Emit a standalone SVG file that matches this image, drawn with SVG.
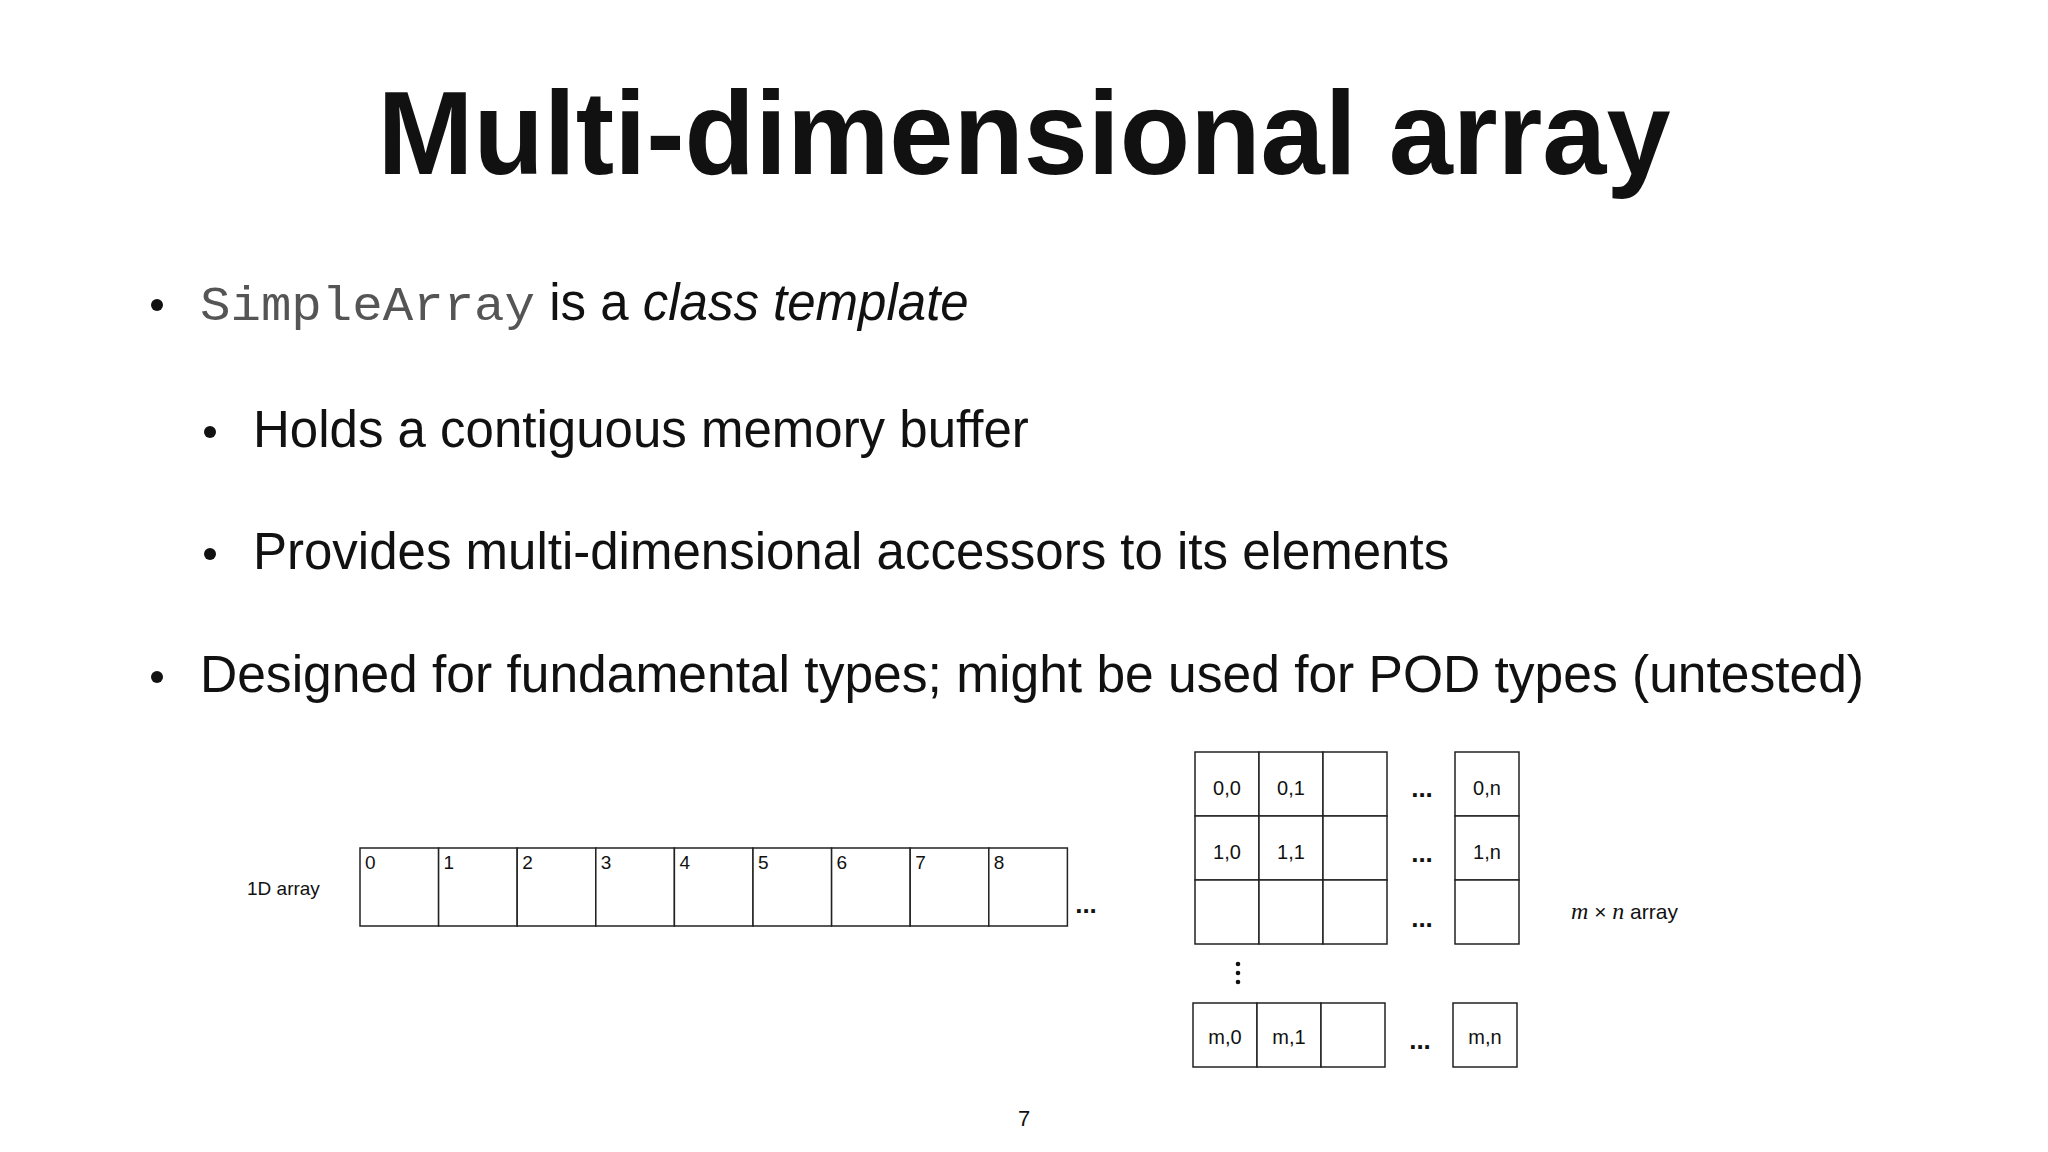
<svg xmlns="http://www.w3.org/2000/svg" width="2048" height="1152" viewBox="0 0 2048 1152">
<style>
text{font-family:"Liberation Sans",Arial,sans-serif;fill:#111}
.b{font-size:51px}
.c{fill:#fff;stroke:#222;stroke-width:1.5}
.s{font-size:19px}
.g{font-size:20px;text-anchor:middle}
.d{font-size:26px;font-weight:bold;text-anchor:middle}
</style>
<rect width="2048" height="1152" fill="#fff"/>
<text x="1024" y="174" font-size="118" font-weight="bold" text-anchor="middle" textLength="1293" lengthAdjust="spacingAndGlyphs">Multi-dimensional array</text>
<g id="bullets">
<circle cx="157" cy="305" r="6" fill="#111"/>
<text x="200" y="320" class="b"><tspan font-family="Liberation Mono,monospace" fill="#555" font-size="48" textLength="335" lengthAdjust="spacingAndGlyphs">SimpleArray</tspan> is a <tspan font-style="italic">class template</tspan></text>
<circle cx="210" cy="432" r="6" fill="#111"/>
<text x="253" y="447" class="b">Holds a contiguous memory buffer</text>
<circle cx="210" cy="554" r="6" fill="#111"/>
<text x="253" y="569" class="b">Provides multi-dimensional accessors to its elements</text>
<circle cx="157" cy="677" r="6" fill="#111"/>
<text x="200" y="692" class="b" textLength="1664" lengthAdjust="spacingAndGlyphs">Designed for fundamental types; might be used for POD types (untested)</text>
</g>
<g id="array1d">
<text x="247" y="895" class="s">1D array</text>
<rect class="c" x="360" y="848" width="78.6" height="78"/><text x="365" y="869" class="s" font-size="17">0</text>
<rect class="c" x="438.6" y="848" width="78.6" height="78"/><text x="443.6" y="869" class="s" font-size="17">1</text>
<rect class="c" x="517.2" y="848" width="78.6" height="78"/><text x="522.2" y="869" class="s" font-size="17">2</text>
<rect class="c" x="595.8" y="848" width="78.6" height="78"/><text x="600.8" y="869" class="s" font-size="17">3</text>
<rect class="c" x="674.4" y="848" width="78.6" height="78"/><text x="679.4" y="869" class="s" font-size="17">4</text>
<rect class="c" x="753" y="848" width="78.6" height="78"/><text x="758" y="869" class="s" font-size="17">5</text>
<rect class="c" x="831.6" y="848" width="78.6" height="78"/><text x="836.6" y="869" class="s" font-size="17">6</text>
<rect class="c" x="910.2" y="848" width="78.6" height="78"/><text x="915.2" y="869" class="s" font-size="17">7</text>
<rect class="c" x="988.8" y="848" width="78.6" height="78"/><text x="993.8" y="869" class="s" font-size="17">8</text>
<text x="1086" y="913" class="d">...</text>
</g>
<g id="array2d">
<rect class="c" x="1195" y="752" width="64" height="64"/><text x="1227" y="795" class="g">0,0</text>
<rect class="c" x="1259" y="752" width="64" height="64"/><text x="1291" y="795" class="g">0,1</text>
<rect class="c" x="1323" y="752" width="64" height="64"/>
<rect class="c" x="1455" y="752" width="64" height="64"/><text x="1487" y="795" class="g">0,n</text>
<rect class="c" x="1195" y="816" width="64" height="64"/><text x="1227" y="859" class="g">1,0</text>
<rect class="c" x="1259" y="816" width="64" height="64"/><text x="1291" y="859" class="g">1,1</text>
<rect class="c" x="1323" y="816" width="64" height="64"/>
<rect class="c" x="1455" y="816" width="64" height="64"/><text x="1487" y="859" class="g">1,n</text>
<rect class="c" x="1195" y="880" width="64" height="64"/>
<rect class="c" x="1259" y="880" width="64" height="64"/>
<rect class="c" x="1323" y="880" width="64" height="64"/>
<rect class="c" x="1455" y="880" width="64" height="64"/>
<rect class="c" x="1193" y="1003" width="64" height="64"/><text x="1225" y="1044" class="g">m,0</text>
<rect class="c" x="1257" y="1003" width="64" height="64"/><text x="1289" y="1044" class="g">m,1</text>
<rect class="c" x="1321" y="1003" width="64" height="64"/>
<rect class="c" x="1453" y="1003" width="64" height="64"/><text x="1485" y="1044" class="g">m,n</text>
<text x="1422" y="797" class="d">...</text>
<text x="1422" y="862" class="d">...</text>
<text x="1422" y="927" class="d">...</text>
<text x="1420" y="1049" class="d">...</text>
<circle cx="1238" cy="964" r="2.3" fill="#111"/><circle cx="1238" cy="973" r="2.3" fill="#111"/><circle cx="1238" cy="982" r="2.3" fill="#111"/>
<text x="1571" y="919" font-size="21"><tspan font-family="Liberation Serif,serif" font-style="italic" font-size="24">m</tspan> × <tspan font-family="Liberation Serif,serif" font-style="italic" font-size="24">n</tspan> array</text>
</g>
<text x="1024" y="1126" font-size="22" text-anchor="middle">7</text>
</svg>
